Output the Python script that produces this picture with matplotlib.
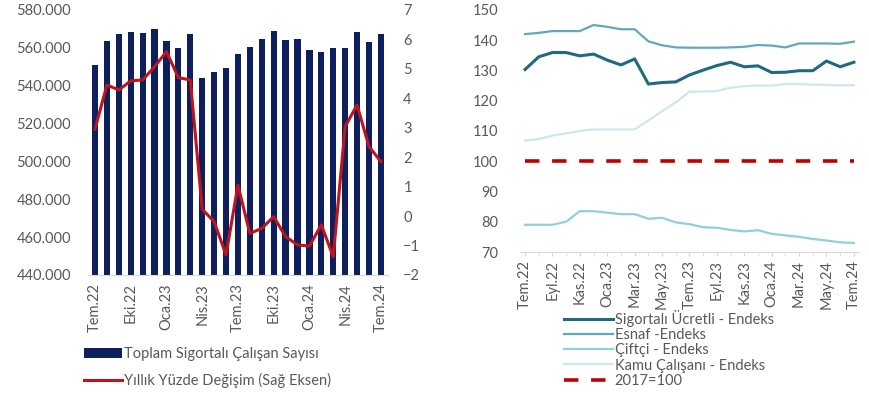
import numpy as np
import matplotlib
matplotlib.use("Agg")
import matplotlib.pyplot as plt
from matplotlib.ticker import FuncFormatter

plt.rcParams['font.family'] = ['Lato', 'DejaVu Sans']

# left panel: monthly, Tem.22 .. Tem.24
months_left = ["Tem.22", "Ağu.22", "Eyl.22", "Eki.22", "Kas.22", "Ara.22", "Oca.23", "Şub.23",
               "Mar.23", "Nis.23", "May.23", "Haz.23", "Tem.23", "Ağu.23", "Eyl.23", "Eki.23",
               "Kas.23", "Ara.23", "Oca.24", "Şub.24", "Mar.24", "Nis.24", "May.24", "Haz.24", "Tem.24"]
tick_labels_left = ["Tem.22", "Eki.22", "Oca.23", "Nis.23", "Tem.23", "Eki.23", "Oca.24", "Nis.24", "Tem.24"]
toplam_sigortali = [551000, 563300, 567300, 568200, 567700, 569800, 563600, 559600, 567500,
                    543900, 547400, 549500, 556800, 560300, 564500, 568900, 564200, 564500,
                    558900, 558000, 559600, 559600, 568400, 562900, 567300]
yillik_degisim = [2.95, 4.45, 4.28, 4.59, 4.62, 5.07, 5.58, 4.70, 4.62, 0.23, -0.19, -1.32,
                  1.05, -0.59, -0.42, -0.02, -0.70, -0.98, -1.02, -0.30, -1.38, 3.04, 3.77,
                  2.36, 1.85]

# right panel: index series (2017=100)
tick_labels_right = ["Tem.22", "Eyl.22", "Kas.22", "Oca.23", "Mar.23", "May.23", "Tem.23",
                     "Eyl.23", "Kas.23", "Oca.24", "Mar.24", "May.24", "Tem.24"]
sigortali_ucretli = [130.3, 134.5, 135.9, 135.9, 134.8, 135.4, 133.4, 131.8, 133.8, 125.5, 126.0,
                     126.2, 128.5, 130.1, 131.6, 132.7, 131.2, 131.5, 129.3, 129.4, 129.9, 129.9,
                     133.1, 131.2, 132.7]
esnaf = [142.0, 142.4, 143.0, 143.0, 143.0, 145.0, 144.4, 143.6, 143.6, 139.6, 138.3, 137.6,
         137.5, 137.5, 137.5, 137.6, 137.8, 138.4, 138.2, 137.6, 138.9, 138.9, 138.9, 138.8, 139.5]
ciftci = [79.0, 79.0, 79.0, 80.0, 83.5, 83.5, 83.0, 82.5, 82.5, 81.0, 81.3, 79.8, 79.2, 78.2,
          78.0, 77.3, 76.8, 77.2, 76.0, 75.5, 75.0, 74.3, 73.8, 73.2, 73.0]
kamu_calisani = [106.8, 107.3, 108.5, 109.2, 110.0, 110.5, 110.5, 110.5, 110.5, 113.5, 116.5,
                 119.5, 123.0, 123.0, 123.2, 124.3, 124.8, 125.0, 125.0, 125.5, 125.5, 125.3,
                 125.2, 125.1, 125.1]
baz_2017 = [100] * len(sigortali_ucretli)

label_col = "#595959"
fs = 10.5

fig = plt.figure(figsize=(8.7, 3.95), dpi=100)

# ---- left chart: bars + yoy % line on twin axis
ax1 = fig.add_axes([0.101, 0.304, 0.345, 0.671])
x = np.arange(len(months_left))
bars = ax1.bar(x, toplam_sigortali, width=0.52, color="#0d1f5c",
               label="Toplam Sigortalı Çalışan Sayısı")
ax1.set_ylim(440000, 580000)
ax1.set_yticks(np.arange(440000, 580001, 20000))
ax1.yaxis.set_major_formatter(FuncFormatter(lambda v, p: f"{int(v):,}".replace(",", ".")))
ax1.set_xlim(-0.6, len(x) - 0.4)
ax1.set_xticks(x[::3])
ax1.set_xticklabels(tick_labels_left, rotation=90)
for s in ["top", "right", "left"]:
    ax1.spines[s].set_visible(False)
ax1.spines["bottom"].set_color("#d9d9d9")
ax1.tick_params(axis="both", length=0, labelsize=fs, labelcolor=label_col)
ax1.tick_params(axis="y", pad=12)
ax1.tick_params(axis="x", pad=6)

ax2 = ax1.twinx()
line, = ax2.plot(x, yillik_degisim, color="#c0141c", lw=2.2,
                 label="Yıllık Yüzde Değişim (Sağ Eksen)")
ax2.set_ylim(-2, 7)
ax2.set_yticks(range(-2, 8))
for s in ax2.spines.values():
    s.set_visible(False)
ax2.tick_params(axis="y", length=0, labelsize=fs, labelcolor=label_col, pad=11)

fig.legend([bars, line], [bars.get_label(), line.get_label()], loc="upper left",
           bbox_to_anchor=(0.097, 0.122), frameon=False, fontsize=fs, labelcolor=label_col,
           handlelength=2.6, handletextpad=0.1, labelspacing=0.85, borderaxespad=0,
           borderpad=0)

# ---- right chart: index lines
ax3 = fig.add_axes([0.598, 0.362, 0.389, 0.613])
xr = np.arange(len(sigortali_ucretli))
ax3.plot(xr, sigortali_ucretli, color="#1d6b7d", lw=2.2, label="Sigortalı Ücretli - Endeks")
ax3.plot(xr, esnaf, color="#5eaabb", lw=1.6, label="Esnaf -Endeks")
ax3.plot(xr, ciftci, color="#90cfdc", lw=1.6, label="Çiftçi - Endeks")
ax3.plot(xr, kamu_calisani, color="#cbe8ee", lw=1.6, label="Kamu Çalışanı - Endeks")
ax3.plot(xr, baz_2017, color="#c00000", lw=2.6, dashes=(4, 3.5), label="2017=100")
ax3.set_ylim(70, 150)
ax3.set_yticks(range(70, 151, 10))
ax3.set_xlim(-0.35, len(xr) - 0.65)
ax3.set_xticks(xr[::2])
ax3.set_xticklabels(tick_labels_right, rotation=90)
ax3.set_xticks(xr, minor=True)
for s in ["top", "right", "left"]:
    ax3.spines[s].set_visible(False)
ax3.spines["bottom"].set_color("#d9d9d9")
ax3.tick_params(axis="y", length=0, labelsize=fs, labelcolor=label_col, pad=16)
ax3.tick_params(axis="x", which="both", length=3, color="#d9d9d9", labelsize=fs,
                labelcolor=label_col, pad=3)

h, l = ax3.get_legend_handles_labels()
fig.legend(h, l, loc="upper left", bbox_to_anchor=(0.648, 0.215), frameon=False,
           fontsize=fs, labelcolor=label_col, handlelength=3.4, handletextpad=0.1,
           labelspacing=0.08, borderaxespad=0, borderpad=0)

fig.savefig("out.png", dpi=100)
